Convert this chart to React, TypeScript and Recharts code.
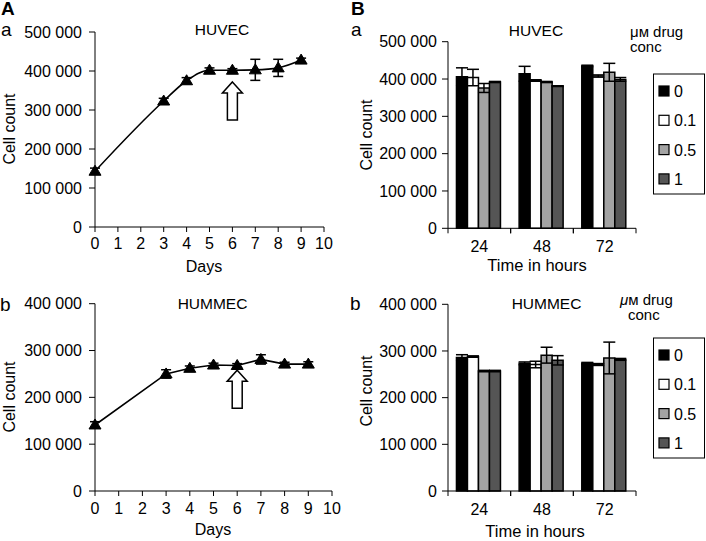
import React from 'react';
import { LineChart, Line, XAxis, YAxis, ErrorBar, ReferenceDot, BarChart, Bar } from 'recharts';

const FONT = '"Liberation Sans", Arial, Helvetica, sans-serif';

// ---------- Panel A: growth curves ----------
const days = [0, 3, 4, 5, 6, 7, 8, 9];
const dayTicks = [0, 1, 2, 3, 4, 5, 6, 7, 8, 9, 10];
const huvecGrowth = [143000, 323000, 375000, 402000, 402000, 403000, 408000, 428000];
const huvecGrowthErr = [8000, 7000, 8000, 6000, 4000, 27000, 22000, 5000];
const hummecGrowth = [141000, 250000, 262000, 269000, 268000, 281000, 271000, 271000];
const hummecGrowthErr = [7000, 9000, 5000, 4000, 4000, 10000, 4000, 5000];
const drugDay = 6;
const huvecArrowTip = 372000;
const hummecArrowTip = 258000;
const huvecTicks = [0, 100000, 200000, 300000, 400000, 500000];
const hummecTicks = [0, 100000, 200000, 300000, 400000];

// ---------- Panel B: drug treatment ----------
const hours = ['24', '48', '72'];
const concLabels = ['0', '0.1', '0.5', '1'];
const concColors = ['#000000', '#ffffff', '#a3a3a3', '#555555'];

const huvecC0 = [406000, 414000, 435000];
const huvecC01 = [404000, 396000, 408000];
const huvecC05 = [376000, 392000, 418000];
const huvecC1 = [392000, 381000, 399000];
const huvecE0 = [24000, 20000, 2000];
const huvecE01 = [22000, 2000, 3000];
const huvecE05 = [12000, 1500, 24000];
const huvecE1 = [1500, 1000, 5000];

const hummecC0 = [286000, 273500, 273500];
const hummecC01 = [288000, 271000, 271000];
const hummecC05 = [257000, 291000, 285000];
const hummecC1 = [257000, 280000, 282000];
const hummecE0 = [6000, 3000, 2000];
const hummecE01 = [1500, 7000, 2000];
const hummecE05 = [1500, 17000, 34000];
const hummecE1 = [1500, 10000, 2000];

const fmt = (v: number) => (v === 0 ? '0' : `${Math.round(v / 1000)} 000`);

const tickStyle = { fill: '#000', fontSize: 16, fontFamily: FONT };

const renderTriangle = (props: any) => {
  const { cx, cy, index } = props;
  if (cx == null || cy == null) return <g key={`t-${index}`} />;
  return (
    <polygon
      key={`t-${index}`}
      points={`${cx},${cy - 6} ${cx + 6},${cy + 4} ${cx - 6},${cy + 4}`}
      fill="#000"
      stroke="#000"
      strokeWidth={1}
    />
  );
};

const renderArrow = (props: any) => {
  const { cx, cy } = props;
  const pts = [
    [cx, cy],
    [cx + 10, cy + 11],
    [cx + 5, cy + 11],
    [cx + 5, cy + 38],
    [cx - 5, cy + 38],
    [cx - 5, cy + 11],
    [cx - 10, cy + 11],
  ]
    .map((p) => p.join(','))
    .join(' ');
  return <polygon points={pts} fill="#fff" stroke="#000" strokeWidth={1.5} />;
};

function GrowthChart(props: {
  left: number;
  top: number;
  width: number;
  height: number;
  marginTop: number;
  marginRight: number;
  xAxisHeight: number;
  xTickMargin: number;
  yMax: number;
  yTicks: number[];
  values: number[];
  errors: number[];
  arrowTip: number;
  curve: 'monotone' | 'linear';
}) {
  const data = days.map((d, i) => ({ day: d, count: props.values[i], err: props.errors[i] }));
  return (
    <div style={{ position: 'absolute', left: props.left, top: props.top }}>
      <LineChart
        width={props.width}
        height={props.height}
        data={data}
        margin={{ top: props.marginTop, right: props.marginRight, left: 0, bottom: 0 }}
      >
        <XAxis
          dataKey="day"
          type="number"
          domain={[0, 10]}
          ticks={dayTicks}
          interval={0}
          height={props.xAxisHeight}
          tickSize={5}
          tickMargin={props.xTickMargin}
          stroke="#000"
          tick={tickStyle}
        />
        <YAxis
          type="number"
          domain={[0, props.yMax]}
          ticks={props.yTicks}
          interval={0}
          width={95}
          tickSize={6}
          tickMargin={7}
          stroke="#000"
          tick={tickStyle}
          tickFormatter={fmt}
        />
        <Line
          dataKey="count"
          type={props.curve}
          stroke="#000"
          strokeWidth={1.6}
          dot={renderTriangle}
          activeDot={false}
          isAnimationActive={false}
        >
          <ErrorBar dataKey="err" direction="y" width={5} stroke="#000" strokeWidth={1.5} />
        </Line>
        <ReferenceDot x={drugDay} y={props.arrowTip} shape={renderArrow} />
      </LineChart>
    </div>
  );
}

function makeBandTick(tickLen: number, gap: number) {
  return (p: any) => {
    const { x, y, payload } = p;
    const axisY = y - tickLen - gap;
    const half = payload && payload.offset ? payload.offset : 0;
    return (
      <g>
        <line x1={x - half} x2={x - half} y1={axisY} y2={axisY + tickLen} stroke="#000" />
        <line x1={x + half} x2={x + half} y1={axisY} y2={axisY + tickLen} stroke="#000" />
        <text x={x} y={y} dy="0.71em" textAnchor="middle" fontSize={16} fill="#000" fontFamily={FONT}>
          {payload.value}
        </text>
      </g>
    );
  };
}

function DrugChart(props: {
  left: number;
  top: number;
  width: number;
  height: number;
  marginTop: number;
  xAxisHeight: number;
  xTickMargin: number;
  yMax: number;
  yTicks: number[];
  series: number[][];
  errors: number[][];
}) {
  const data = hours.map((h, i) => {
    const row: any = { time: h };
    props.series.forEach((s, k) => {
      row[`c${k}`] = s[i];
      row[`e${k}`] = props.errors[k][i];
    });
    return row;
  });
  return (
    <div style={{ position: 'absolute', left: props.left, top: props.top }}>
      <BarChart
        width={props.width}
        height={props.height}
        data={data}
        margin={{ top: props.marginTop, right: 70, left: 0, bottom: 0 }}
        barCategoryGap="13.5%"
        barGap={0}
      >
        <XAxis
          dataKey="time"
          type="category"
          height={props.xAxisHeight}
          tickSize={5}
          tickMargin={props.xTickMargin}
          tickLine={false}
          stroke="#000"
          interval={0}
          tick={makeBandTick(5, props.xTickMargin)}
        />
        <YAxis
          type="number"
          domain={[0, props.yMax]}
          ticks={props.yTicks}
          interval={0}
          width={98}
          tickSize={6}
          tickMargin={5}
          stroke="#000"
          tick={tickStyle}
          tickFormatter={fmt}
        />
        {concLabels.map((c, k) => (
          <Bar
            key={c}
            dataKey={`c${k}`}
            fill={concColors[k]}
            stroke="#000"
            strokeWidth={1.5}
            isAnimationActive={false}
          >
            <ErrorBar dataKey={`e${k}`} direction="y" width={6} stroke="#000" strokeWidth={1.5} />
          </Bar>
        ))}
      </BarChart>
    </div>
  );
}

function LegendBox({ top }: { top: number }) {
  return (
    <g>
      <rect x={653.5} y={top} width={51} height={120} fill="#fff" stroke="#000" strokeWidth={1} />
      {concLabels.map((c, k) => {
        const cy = top + 17 + k * 29.3;
        return (
          <g key={c}>
            <rect x={659} y={cy - 5} width={10} height={10} fill={concColors[k]} stroke="#000" strokeWidth={1.2} />
            <text x={674} y={cy + 6} fontSize={16} fontFamily={FONT} fill="#000">
              {c}
            </text>
          </g>
        );
      })}
    </g>
  );
}

export default function App() {
  const t = { fontFamily: FONT, fill: '#000' };
  return (
    <div
      style={{
        position: 'absolute',
        left: 0,
        top: 0,
        width: 706,
        height: 541,
        background: '#fff',
        overflow: 'hidden',
      }}
    >
      <GrowthChart
        left={0}
        top={0}
        width={350}
        height={270}
        marginTop={32}
        marginRight={26}
        xAxisHeight={43}
        xTickMargin={6}
        yMax={500000}
        yTicks={huvecTicks}
        values={huvecGrowth}
        errors={huvecGrowthErr}
        arrowTip={huvecArrowTip}
        curve="monotone"
      />
      <GrowthChart
        left={0}
        top={270}
        width={350}
        height={271}
        marginTop={33.7}
        marginRight={18}
        xAxisHeight={50}
        xTickMargin={7}
        yMax={400000}
        yTicks={hummecTicks}
        values={hummecGrowth}
        errors={hummecGrowthErr}
        arrowTip={hummecArrowTip}
        curve="linear"
      />
      <DrugChart
        left={350}
        top={0}
        width={356}
        height={270}
        marginTop={41.7}
        xAxisHeight={41.7}
        xTickMargin={7}
        yMax={500000}
        yTicks={huvecTicks}
        series={[huvecC0, huvecC01, huvecC05, huvecC1]}
        errors={[huvecE0, huvecE01, huvecE05, huvecE1]}
      />
      <DrugChart
        left={350}
        top={270}
        width={356}
        height={271}
        marginTop={34.3}
        xAxisHeight={50}
        xTickMargin={8}
        yMax={400000}
        yTicks={hummecTicks}
        series={[hummecC0, hummecC01, hummecC05, hummecC1]}
        errors={[hummecE0, hummecE01, hummecE05, hummecE1]}
      />
      <svg
        width={706}
        height={541}
        style={{ position: 'absolute', left: 0, top: 0, pointerEvents: 'none' }}
      >
        {/* panel letters */}
        <text x={1} y={15} fontSize={19} fontWeight="bold" {...t}>A</text>
        <text x={1} y={36} fontSize={19} {...t}>a</text>
        <text x={0} y={311} fontSize={19} {...t}>b</text>
        <text x={351} y={15} fontSize={19} fontWeight="bold" {...t}>B</text>
        <text x={351} y={36} fontSize={19} {...t}>a</text>
        <text x={350} y={310} fontSize={19} {...t}>b</text>

        {/* titles */}
        <text x={222} y={35} fontSize={15.5} textAnchor="middle" {...t}>HUVEC</text>
        <text x={212.5} y={309} fontSize={15.5} textAnchor="middle" {...t}>HUMMEC</text>
        <text x={536} y={36} fontSize={15.5} textAnchor="middle" {...t}>HUVEC</text>
        <text x={546.5} y={309} fontSize={15.5} textAnchor="middle" {...t}>HUMMEC</text>

        {/* axis titles */}
        <text x={14.5} y={129} fontSize={16} textAnchor="middle" transform="rotate(-90 14.5 129)" {...t}>Cell count</text>
        <text x={14.5} y={397} fontSize={16} textAnchor="middle" transform="rotate(-90 14.5 397)" {...t}>Cell count</text>
        <text x={371.5} y={135} fontSize={16} textAnchor="middle" transform="rotate(-90 371.5 135)" {...t}>Cell count</text>
        <text x={371.5} y={391} fontSize={16} textAnchor="middle" transform="rotate(-90 371.5 391)" {...t}>Cell count</text>
        <text x={204} y={272} fontSize={16} textAnchor="middle" {...t}>Days</text>
        <text x={213} y={535} fontSize={16} textAnchor="middle" {...t}>Days</text>
        <text x={537} y={271} fontSize={16.5} textAnchor="middle" {...t}>Time in hours</text>
        <text x={535} y={537} fontSize={16.5} textAnchor="middle" {...t}>Time in hours</text>

        {/* legend titles */}
        <text x={630} y={37} fontSize={15} {...t}>μм drug</text>
        <text x={630} y={52} fontSize={15} {...t}>conc</text>
        <text x={620} y={305} fontSize={15} {...t}>
          <tspan fontStyle="italic">μ</tspan>м drug
        </text>
        <text x={628} y={320} fontSize={15} {...t}>conc</text>

        <LegendBox top={74} />
        <LegendBox top={338} />
      </svg>
    </div>
  );
}
